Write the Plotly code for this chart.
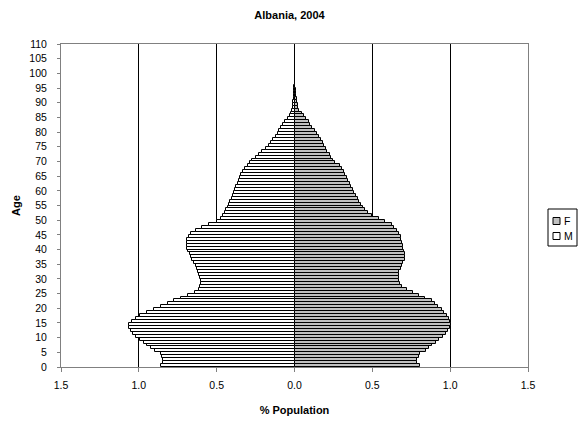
import plotly.graph_objects as go

# Single-year ages and share of total population (%) by sex, Albania 2004
ages = list(range(0, 96))

male = [
    0.856, 0.843, 0.846, 0.854, 0.860, 0.893, 0.920, 0.946, 0.967, 0.990,
    1.020, 1.036, 1.049, 1.060, 1.062, 1.045, 1.020, 0.990, 0.946, 0.905,
    0.860, 0.813, 0.775, 0.732, 0.685, 0.642, 0.614, 0.604, 0.600, 0.600,
    0.604, 0.614, 0.620, 0.625, 0.636, 0.647, 0.657, 0.668, 0.674, 0.683,
    0.690, 0.693, 0.693, 0.690, 0.679, 0.668, 0.636, 0.593, 0.550, 0.497,
    0.475, 0.458, 0.448, 0.438, 0.428, 0.420, 0.412, 0.404, 0.396, 0.388,
    0.380, 0.374, 0.366, 0.358, 0.350, 0.342, 0.332, 0.315, 0.300, 0.285,
    0.270, 0.245, 0.228, 0.210, 0.185, 0.165, 0.150, 0.135, 0.120, 0.108,
    0.097, 0.085, 0.072, 0.060, 0.045, 0.032, 0.020, 0.015, 0.012, 0.010,
    0.008, 0.006, 0.004, 0.003, 0.002, 0.001,
]

female = [
    0.807, 0.786, 0.790, 0.797, 0.803, 0.843, 0.865, 0.886, 0.910, 0.931,
    0.957, 0.972, 0.983, 0.996, 1.004, 1.000, 0.990, 0.978, 0.961, 0.946,
    0.925, 0.903, 0.882, 0.839, 0.797, 0.760, 0.720, 0.690, 0.679, 0.674,
    0.670, 0.672, 0.674, 0.683, 0.690, 0.700, 0.707, 0.709, 0.709, 0.704,
    0.700, 0.696, 0.692, 0.687, 0.683, 0.674, 0.657, 0.642, 0.625, 0.582,
    0.540, 0.497, 0.469, 0.454, 0.439, 0.426, 0.417, 0.405, 0.396, 0.383,
    0.375, 0.365, 0.355, 0.345, 0.335, 0.325, 0.315, 0.305, 0.290, 0.260,
    0.245, 0.235, 0.225, 0.210, 0.200, 0.190, 0.180, 0.170, 0.160, 0.145,
    0.130, 0.115, 0.100, 0.090, 0.075, 0.060, 0.045, 0.030, 0.025, 0.020,
    0.018, 0.014, 0.012, 0.010, 0.008, 0.005,
]

x_ticks = [-1.5, -1.0, -0.5, 0.0, 0.5, 1.0, 1.5]
x_tick_text = ["1.5", "1.0", "0.5", "0.0", "0.5", "1.0", "1.5"]
y_ticks = list(range(0, 111, 5))

legend_names = ["F", "M"]
legend_fills = ["#c0c0c0", "#ffffff"]

FONT = "Liberation Sans, Arial, sans-serif"
W, H = 579, 421

fig = go.Figure()

fig.add_trace(go.Bar(
    name=legend_names[0],
    y=[a + 0.5 for a in ages],
    x=female,
    orientation="h",
    width=1.0,
    marker=dict(color=legend_fills[0], line=dict(color="#000000", width=1)),
))

fig.add_trace(go.Bar(
    name=legend_names[1],
    y=[a + 0.5 for a in ages],
    x=[-v for v in male],
    orientation="h",
    width=1.0,
    marker=dict(color=legend_fills[1], line=dict(color="#000000", width=1)),
))


# Compact boxed legend to the right of the plot area (pixel -> paper fractions)
def px(x):
    return x / W


def py(y):
    return 1 - y / H


shapes = [dict(type="rect", xref="paper", yref="paper",
               x0=px(548) - 0, x1=px(577), y0=py(246), y1=py(209),
               line=dict(color="#000000", width=1), fillcolor="#ffffff",
               layer="above")]
annotations = []
for i, (name, fill) in enumerate(zip(legend_names, legend_fills)):
    cy = 221 + 15 * i
    shapes.append(dict(type="rect", xref="paper", yref="paper",
                       x0=px(553), x1=px(560), y0=py(cy + 3.5), y1=py(cy - 3.5),
                       line=dict(color="#000000", width=1), fillcolor=fill,
                       layer="above"))
    annotations.append(dict(text=name, xref="paper", yref="paper",
                            x=px(562), y=py(cy), xanchor="left", yanchor="middle",
                            showarrow=False,
                            font=dict(family=FONT, size=10.5, color="#000000")))

# Remap paper fractions to the plot domain coordinates used by layout shapes
margin = dict(l=61, r=51, t=44, b=54, autoexpand=False)
pw = W - margin["l"] - margin["r"]
ph = H - margin["t"] - margin["b"]


def to_paper_x(f):
    return (f * W - margin["l"]) / pw


def to_paper_y(f):
    return (f * H - margin["b"]) / ph


for s in shapes:
    s["x0"], s["x1"] = to_paper_x(s["x0"]), to_paper_x(s["x1"])
    s["y0"], s["y1"] = to_paper_y(s["y0"]), to_paper_y(s["y1"])
for a in annotations:
    a["x"], a["y"] = to_paper_x(a["x"]), to_paper_y(a["y"])

fig.update_layout(
    width=W,
    height=H,
    margin=margin,
    paper_bgcolor="#ffffff",
    plot_bgcolor="#ffffff",
    barmode="overlay",
    bargap=0,
    showlegend=False,
    font=dict(family=FONT, size=10.5, color="#000000"),
    title=dict(
        text="<b>Albania, 2004</b>",
        font=dict(family=FONT, size=11, color="#000000"),
        x=0.5, xanchor="center",
        y=1 - 15 / H, yref="container", yanchor="middle",
    ),
    shapes=shapes,
    annotations=annotations,
    xaxis=dict(
        range=[-1.5, 1.5],
        tickvals=x_ticks,
        ticktext=x_tick_text,
        ticks="outside",
        ticklen=4,
        tickcolor="#808080",
        ticklabelstandoff=4,
        showgrid=True,
        gridcolor="#000000",
        gridwidth=1,
        zeroline=False,
        showline=True,
        linecolor="#808080",
        linewidth=1,
        mirror=True,
        title=dict(text="<b>% Population</b>",
                   font=dict(family=FONT, size=11), standoff=16),
    ),
    yaxis=dict(
        range=[0, 110],
        tickvals=y_ticks,
        ticks="outside",
        ticklen=3,
        tickcolor="#808080",
        ticklabelstandoff=8,
        showgrid=False,
        zeroline=False,
        showline=True,
        linecolor="#808080",
        linewidth=1,
        mirror=True,
        title=dict(text="<b>Age</b>",
                   font=dict(family=FONT, size=11), standoff=6),
    ),
)

fig.write_html("out.html")
